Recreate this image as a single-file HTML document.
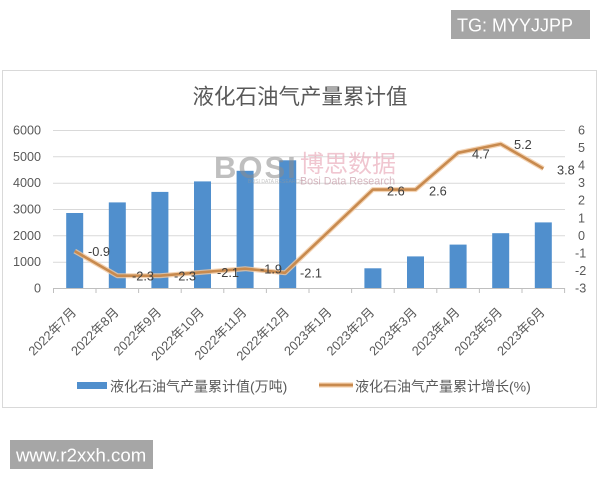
<!DOCTYPE html>
<html><head><meta charset="utf-8">
<style>
html,body{margin:0;padding:0;background:#fff;}
body{width:600px;height:480px;overflow:hidden;}
svg{display:block;}
text{font-family:"Liberation Sans","Noto Sans CJK SC",sans-serif;}
</style></head>
<body>
<svg width="600" height="480" viewBox="0 0 600 480" xmlns="http://www.w3.org/2000/svg">
<rect x="0" y="0" width="600" height="480" fill="#fff"/>
<!-- TG box -->
<rect x="451" y="10" width="139" height="29" fill="#a6a6a6"/>
<text x="457" y="31.5" font-size="18" fill="#fff">TG: MYYJJPP</text>
<!-- chart frame -->
<rect x="2.5" y="70.5" width="594" height="337" fill="#fff" stroke="#d9d9d9" stroke-width="1"/>
<!-- title -->
<text x="300" y="104" font-size="21.5" fill="#595959" text-anchor="middle">液化石油气产量累计值</text>
<!-- gridlines -->
<g stroke="#d9d9d9" stroke-width="1">
<line x1="53" y1="130.5" x2="565" y2="130.5"/>
<line x1="53" y1="156.8" x2="565" y2="156.8"/>
<line x1="53" y1="183.2" x2="565" y2="183.2"/>
<line x1="53" y1="209.5" x2="565" y2="209.5"/>
<line x1="53" y1="235.8" x2="565" y2="235.8"/>
<line x1="53" y1="262.2" x2="565" y2="262.2"/>
</g>
<line x1="53" y1="288.5" x2="565" y2="288.5" stroke="#bfbfbf" stroke-width="1"/>
<g stroke="#bfbfbf" stroke-width="1">
<line x1="53.5" y1="288" x2="53.5" y2="293"/>
<line x1="96" y1="288" x2="96" y2="293"/>
<line x1="138.6" y1="288" x2="138.6" y2="293"/>
<line x1="181.2" y1="288" x2="181.2" y2="293"/>
<line x1="223.8" y1="288" x2="223.8" y2="293"/>
<line x1="266.4" y1="288" x2="266.4" y2="293"/>
<line x1="309" y1="288" x2="309" y2="293"/>
<line x1="351.6" y1="288" x2="351.6" y2="293"/>
<line x1="394.2" y1="288" x2="394.2" y2="293"/>
<line x1="436.8" y1="288" x2="436.8" y2="293"/>
<line x1="479.4" y1="288" x2="479.4" y2="293"/>
<line x1="522" y1="288" x2="522" y2="293"/>
<line x1="564.6" y1="288" x2="564.6" y2="293"/>
</g>
<!-- left axis labels -->
<g font-size="12.6" fill="#595959" text-anchor="end">
<text x="41" y="134.5">6000</text>
<text x="41" y="160.8">5000</text>
<text x="41" y="187.2">4000</text>
<text x="41" y="213.5">3000</text>
<text x="41" y="239.8">2000</text>
<text x="41" y="266.2">1000</text>
<text x="41" y="292.5">0</text>
</g>
<!-- right axis labels -->
<g font-size="12.6" fill="#595959" text-anchor="start">
<text x="578" y="134.5">6</text>
<text x="578" y="152">5</text>
<text x="578" y="169.6">4</text>
<text x="578" y="187.2">3</text>
<text x="578" y="204.7">2</text>
<text x="578" y="222.3">1</text>
<text x="578" y="239.8">0</text>
<text x="575" y="257.4">-1</text>
<text x="575" y="274.9">-2</text>
<text x="575" y="292.5">-3</text>
</g>
<!-- bars -->
<g fill="#508fcd">
<rect x="66.2" y="213" width="17" height="75"/>
<rect x="108.8" y="202.4" width="17" height="85.6"/>
<rect x="151.4" y="191.9" width="17" height="96.1"/>
<rect x="194" y="181.4" width="17" height="106.6"/>
<rect x="236.6" y="170.8" width="17" height="117.2"/>
<rect x="279.2" y="160.3" width="17" height="127.7"/>
<rect x="364.4" y="268.3" width="17" height="19.7"/>
<rect x="407" y="256.4" width="17" height="31.6"/>
<rect x="449.6" y="244.6" width="17" height="43.4"/>
<rect x="492.2" y="233.2" width="17" height="54.8"/>
<rect x="534.8" y="222.4" width="17" height="65.6"/>
</g>
<!-- line -->
<polyline fill="none" stroke="#f1c9a2" stroke-width="5" stroke-linejoin="round" opacity="0.8"
 points="74.7,251.1 117.3,275.7 159.9,275.7 202.5,272.2 245.1,268.7 285,272.8 372.9,189.6 415.5,189.6 458.1,152.8 500.7,144 543.3,168.6"/>
<polyline fill="none" stroke="#c88a4e" stroke-width="2.6" stroke-linejoin="round"
 points="74.7,251.1 117.3,275.7 159.9,275.7 202.5,272.2 245.1,268.7 285,272.8 372.9,189.6 415.5,189.6 458.1,152.8 500.7,144 543.3,168.6"/>
<!-- data labels -->
<g font-size="12.8" fill="#404040">
<text x="88" y="256">-0.9</text>
<text x="132" y="280.5">-2.3</text>
<text x="174" y="280.5">-2.3</text>
<text x="217" y="277">-2.1</text>
<text x="260" y="273.5">-1.9</text>
<text x="300" y="277.5">-2.1</text>
<text x="387" y="195.5">2.6</text>
<text x="429" y="195.5">2.6</text>
<text x="472" y="158.5">4.7</text>
<text x="514" y="149">5.2</text>
<text x="557" y="174.5">3.8</text>
</g>
<!-- watermark -->
<g opacity="0.55">
<text x="214" y="178" font-size="31" font-weight="bold" fill="#8c8c8c" letter-spacing="2">BOSI</text>
<text x="248" y="183" font-size="5" fill="#999">BOSI DATA RESEARCH</text>
</g>
<text x="300" y="172" font-size="24" fill="#e9a8b8" opacity="0.65">博思数据</text>
<text x="300" y="184.5" font-size="10.7" fill="#c79aa6" opacity="0.7">Bosi Data Research</text>
<!-- x labels -->
<g font-size="12.8" fill="#595959" text-anchor="end">
<text transform="translate(77,313) rotate(-45)">2022年7月</text>
<text transform="translate(119.6,313) rotate(-45)">2022年8月</text>
<text transform="translate(162.2,313) rotate(-45)">2022年9月</text>
<text transform="translate(204.8,313) rotate(-45)">2022年10月</text>
<text transform="translate(247.4,313) rotate(-45)">2022年11月</text>
<text transform="translate(290,313) rotate(-45)">2022年12月</text>
<text transform="translate(332.6,313) rotate(-45)">2023年1月</text>
<text transform="translate(375.2,313) rotate(-45)">2023年2月</text>
<text transform="translate(417.8,313) rotate(-45)">2023年3月</text>
<text transform="translate(460.4,313) rotate(-45)">2023年4月</text>
<text transform="translate(503,313) rotate(-45)">2023年5月</text>
<text transform="translate(545.6,313) rotate(-45)">2023年6月</text>
</g>
<!-- legend -->
<rect x="77" y="382" width="30" height="7" fill="#508fcd"/>
<text x="110" y="391.5" font-size="14" fill="#595959">液化石油气产量累计值(万吨)</text>
<line x1="319" y1="385" x2="353" y2="385" stroke="#f1c9a2" stroke-width="5"/>
<line x1="319" y1="385" x2="353" y2="385" stroke="#c88a4e" stroke-width="2.6"/>
<text x="355" y="391.5" font-size="14" fill="#595959">液化石油气产量累计增长(%)</text>
<!-- bottom watermark -->
<rect x="10" y="440" width="143" height="29" fill="#a6a6a6"/>
<text x="16" y="461.5" font-size="18.6" fill="#fff">www.r2xxh.com</text>
</svg>
</body></html>
